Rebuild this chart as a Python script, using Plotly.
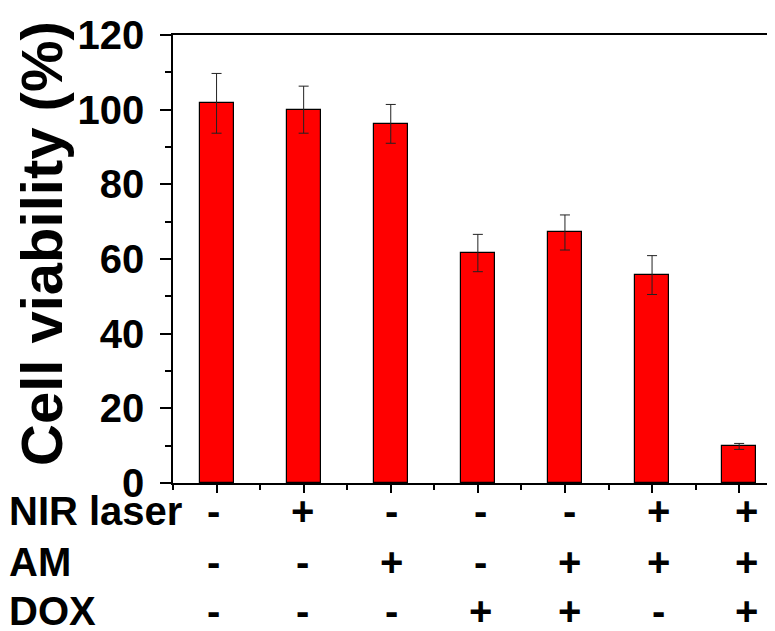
import plotly.graph_objects as go

groups = [1, 2, 3, 4, 5, 6, 7]
viability = [101.7, 100.0, 96.2, 61.6, 67.1, 55.7, 9.8]
errors = [8.0, 6.3, 5.2, 5.0, 4.7, 5.2, 0.8]
row_labels = ["NIR laser", "AM", "DOX"]
nir = ["-", "+", "-", "-", "-", "+", "+"]
am = ["-", "-", "+", "-", "+", "+", "+"]
dox = ["-", "-", "-", "+", "+", "-", "+"]
yticks = [0, 20, 40, 60, 80, 100, 120]

FONT = "Liberation Sans, Arial, sans-serif"
OFF = 8  # page body margin offset
W, H = 775 - OFF, 631 - OFF
L, T = 173 - OFF, 35 - OFF
BOT = 483 - OFF
R, B = 0, H - BOT
PW, PH = W - L - R, BOT - T

fig = go.Figure()
fig.add_trace(go.Bar(
    x=groups, y=viability, width=0.39,
    marker=dict(color="#FF0000", line=dict(color="#000000", width=1.2)),
    error_y=dict(type="data", array=errors, visible=True,
                 color="#222222", thickness=1, width=5),
))

cat_px = 87.1
xmax = 0.5 + PW / cat_px

fig.update_layout(
    width=W, height=H,
    margin=dict(l=L, r=R, t=T, b=B, pad=0),
    plot_bgcolor="white", paper_bgcolor="white",
    showlegend=False, bargap=0,
    font=dict(family=FONT, color="black"),
    xaxis=dict(range=[0.5, xmax], tickvals=groups, showticklabels=False,
               ticks="outside", ticklen=8, tickwidth=1.5, tickcolor="black",
               showline=True, linecolor="black", linewidth=1.5, mirror=True,
               showgrid=False, zeroline=False,
               minor=dict(tickvals=[0.5, 1.5, 2.5, 3.5, 4.5, 5.5, 6.5],
                          ticks="outside", ticklen=5, tickwidth=1.5,
                          tickcolor="black", showgrid=False)),
    yaxis=dict(range=[0, 120], tickvals=yticks,
               ticks="outside", ticklen=11, tickwidth=1.5, tickcolor="black",
               showline=True, linecolor="black", linewidth=1.5,
               showgrid=False, zeroline=False, ticklabelstandoff=8,
               tickfont=dict(family=FONT, size=40, color="black", weight="bold"),
               minor=dict(dtick=10, ticks="outside", ticklen=6, tickwidth=1.5,
                          tickcolor="black", showgrid=False)),
)

# y-axis title as annotation
fig.add_annotation(text="Cell viability (%)", textangle=-90,
                   xref="paper", yref="paper", x=0, y=(483 - 244) / PH,
                   xanchor="center", yanchor="middle", xshift=42 - 173,
                   showarrow=False,
                   font=dict(family=FONT, size=58, color="black", weight="bold"))

row_y = [511, 561.5, 611]
rows = [nir, am, dox]
for lab, ypx, signs in zip(row_labels, row_y, rows):
    yp = (483 - ypx) / PH
    fig.add_annotation(text=lab, xref="paper", yref="paper", x=0, y=yp,
                       xanchor="left", yanchor="middle", xshift=7 - 173,
                       showarrow=False,
                       font=dict(family=FONT, size=40, color="black", weight="bold"))
    for i, (g, s) in enumerate(zip(groups, signs)):
        fig.add_annotation(text=s, xref="x", yref="paper", x=g, y=yp,
                           xanchor="center", yanchor="middle",
                           xshift=-3 + i * 1.8,
                           showarrow=False,
                           font=dict(family=FONT, size=40, color="black", weight="bold"))

fig.write_html("out.html")
